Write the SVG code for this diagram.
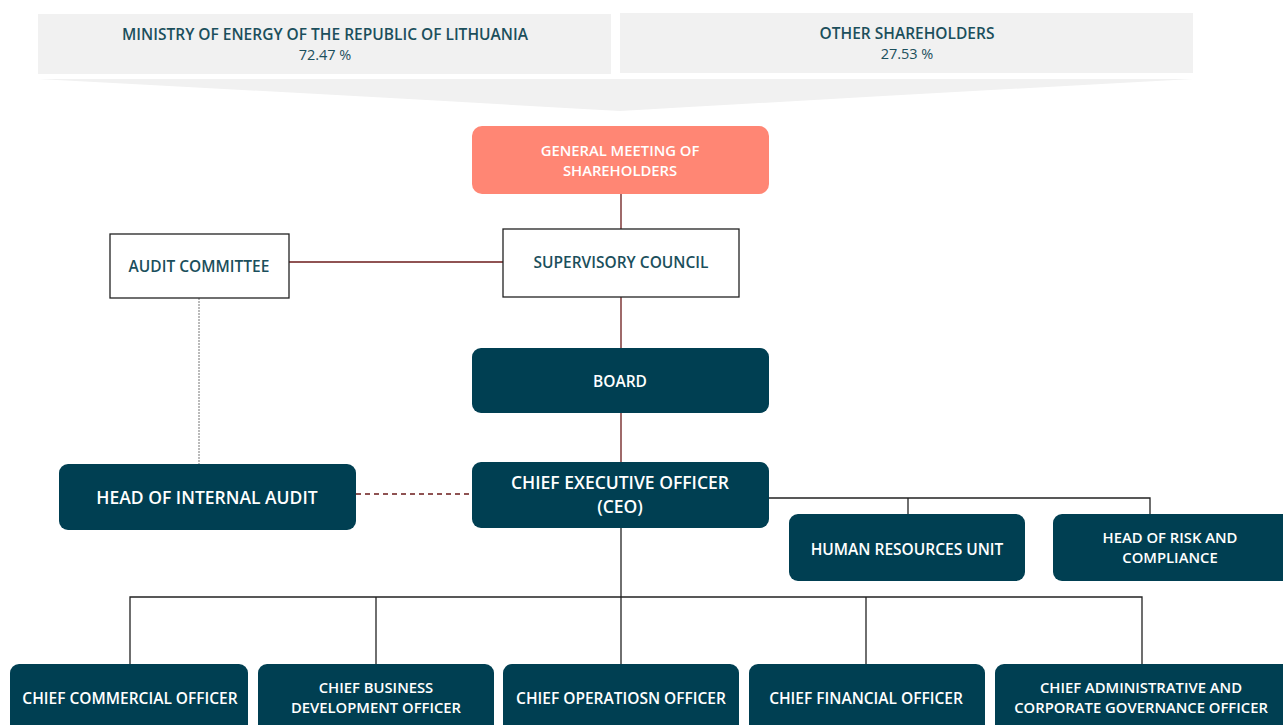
<svg xmlns="http://www.w3.org/2000/svg" width="1283" height="725" viewBox="0 0 1283 725">
<style>
text{font-family:"Open Sans","Noto Sans",sans-serif;text-anchor:middle;font-weight:600}
.dk{fill:#003f52}
.wt{fill:#ffffff}
.tl{fill:#1b4f5c}
.box{fill:#ffffff;stroke:#222;stroke-width:1.3}
.s14{font-size:15.5px}
.s2{font-size:14.8px}
.pc{font-size:14.5px;font-weight:400}
.s17{font-size:17.5px}
.ln{fill:none;stroke:#222;stroke-width:1.3}
.rd{fill:none;stroke:#6b1a1a;stroke-width:1.3}
</style>
<rect width="1283" height="725" fill="#ffffff"/>
<g id="ministry">
<rect x="38" y="14" width="573" height="60" fill="#f1f1f1"/>
<text class="tl s14" x="325" y="40">MINISTRY OF ENERGY OF THE REPUBLIC OF LITHUANIA</text>
<text class="tl pc" x="325" y="60">72.47 %</text>
</g>
<g id="other">
<rect x="620" y="13" width="573" height="60" fill="#f1f1f1"/>
<text class="tl s14" x="907" y="39">OTHER SHAREHOLDERS</text>
<text class="tl pc" x="907" y="59">27.53 %</text>
</g>
<g id="funnel">
<path d="M38 79 L1193 79 Q900 95 620 111 Q340 95 38 79 Z" fill="#f1f1f1"/>
</g>
<g id="connectors">
<line class="rd" x1="621" y1="194" x2="621" y2="229"/>
<line class="rd" x1="621" y1="297" x2="621" y2="348"/>
<line class="rd" x1="621" y1="413" x2="621" y2="462"/>
<line class="rd" x1="289" y1="262" x2="503" y2="262"/>
<line x1="199" y1="298" x2="199" y2="464" stroke="#777" stroke-width="1" stroke-dasharray="2 1"/>
<line x1="356" y1="494" x2="472" y2="494" stroke="#6b1a1a" stroke-width="1.3" stroke-dasharray="5 4"/>
<polyline class="ln" points="769,498 1150,498 1150,514"/>
<line class="ln" x1="908" y1="498" x2="908" y2="514"/>
<line class="ln" x1="621" y1="528" x2="621" y2="597"/>
<polyline class="ln" points="130,664 130,597 1142,597 1142,664"/>
<line class="ln" x1="376" y1="597" x2="376" y2="664"/>
<line class="ln" x1="621" y1="597" x2="621" y2="664" stroke="#888"/>
<line class="ln" x1="866" y1="597" x2="866" y2="664" stroke="#666"/>
</g>
<g id="gms">
<rect x="472" y="126" width="297" height="68" rx="10" fill="#ff8674"/>
<text class="wt s2" x="620" y="156">GENERAL MEETING OF</text>
<text class="wt s2" x="620" y="176">SHAREHOLDERS</text>
</g>
<g id="supervisory">
<rect class="box" x="503" y="229" width="236" height="68"/>
<text class="tl s14" x="621" y="268">SUPERVISORY COUNCIL</text>
</g>
<g id="audit-committee">
<rect class="box" x="110" y="234" width="179" height="64"/>
<text class="tl s14" x="199" y="272">AUDIT COMMITTEE</text>
</g>
<g id="board">
<rect class="dk" x="472" y="348" width="297" height="65" rx="9"/>
<text class="wt s14" x="620" y="387">BOARD</text>
</g>
<g id="ceo">
<rect class="dk" x="472" y="462" width="297" height="66" rx="9"/>
<text class="wt s17" x="620" y="489">CHIEF EXECUTIVE OFFICER</text>
<text class="wt s17" x="620" y="513">(CEO)</text>
</g>
<g id="internal-audit">
<rect class="dk" x="59" y="464" width="297" height="66" rx="9"/>
<text class="wt s17" x="207" y="504">HEAD OF INTERNAL AUDIT</text>
</g>
<g id="hr">
<rect class="dk" x="789" y="514" width="236" height="67" rx="9"/>
<text class="wt s14" x="907" y="555">HUMAN RESOURCES UNIT</text>
</g>
<g id="risk">
<rect class="dk" x="1053" y="514" width="240" height="67" rx="9"/>
<text class="wt s2" x="1170" y="543">HEAD OF RISK AND</text>
<text class="wt s2" x="1170" y="563">COMPLIANCE</text>
</g>
<g id="cco">
<rect class="dk" x="10" y="664" width="238" height="75" rx="9"/>
<text class="wt s14" x="130" y="704">CHIEF COMMERCIAL OFFICER</text>
</g>
<g id="cbdo">
<rect class="dk" x="258" y="664" width="236" height="75" rx="9"/>
<text class="wt s2" x="376" y="693">CHIEF BUSINESS</text>
<text class="wt s2" x="376" y="713">DEVELOPMENT OFFICER</text>
</g>
<g id="coo">
<rect class="dk" x="503" y="664" width="236" height="75" rx="9"/>
<text class="wt s14" x="621" y="704">CHIEF OPERATIOSN OFFICER</text>
</g>
<g id="cfo">
<rect class="dk" x="749" y="664" width="236" height="75" rx="9"/>
<text class="wt s14" x="866" y="704">CHIEF FINANCIAL OFFICER</text>
</g>
<g id="cacgo">
<rect class="dk" x="995" y="664" width="298" height="75" rx="9"/>
<text class="wt s2" x="1141" y="693">CHIEF ADMINISTRATIVE AND</text>
<text class="wt s2" x="1141" y="713">CORPORATE GOVERNANCE OFFICER</text>
</g>
</svg>
